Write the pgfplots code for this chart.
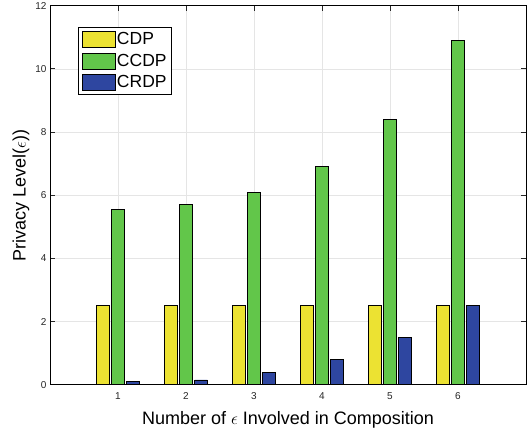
\documentclass[border=0pt]{standalone}
\usepackage{fontspec}
\setmainfont{Liberation Sans}
\usepackage{pgfplots}
\pgfplotsset{compat=1.18}
\definecolor{cyel}{RGB}{236,226,50}
\definecolor{cgrn}{RGB}{98,198,74}
\definecolor{cblu}{RGB}{46,70,160}
\pgfplotsset{my legend/.style={legend image code/.code={\draw[##1,line width=0.6pt] (0pt,-8pt) rectangle (33pt,8pt);}}}
\begin{document}
\begin{tikzpicture}
\begin{axis}[
  scale only axis, width=476pt, height=379pt,
  xmin=0, xmax=7, ymin=0, ymax=12,
  xtick={1,2,3,4,5,6}, ytick={0,2,4,6,8,10,12},
  tick align=inside, tick pos=both,
  major tick length=5pt,
  grid=major, grid style={color=black!10, line width=0.6pt},
  axis line style={line width=0.8pt},
  tick style={line width=0.8pt, color=black!85},
  ticklabel style={font=\fontsize{10}{12}\selectfont, text=black!85},
  xticklabel style={yshift=-4pt},
  /pgf/number format/assume math mode=true,
  xlabel={Number of $\epsilon$ Involved in Composition},
  ylabel={Privacy Level($\epsilon$))},
  label style={font=\fontsize{18}{20}\selectfont},
  xlabel style={yshift=-5pt},
  ylabel style={yshift=-1pt},
  legend style={at={(0.0588,0.944)}, anchor=north west, draw=black, line width=0.8pt,
    font=\fontsize{17.5}{17.5}\selectfont, inner xsep=3.5pt, inner ysep=3.5pt, row sep=5pt,
    nodes={inner sep=1.5pt}},
  legend cell align=left,
]
\addplot[ybar, bar width=12.5pt, bar shift=-15pt, fill=cyel, draw=black, line width=0.6pt, my legend]
  coordinates {(1,2.5) (2,2.5) (3,2.5) (4,2.5) (5,2.5) (6,2.5)};
\addlegendentry{CDP}
\addplot[ybar, bar width=12.5pt, bar shift=0pt, fill=cgrn, draw=black, line width=0.6pt, my legend]
  coordinates {(1,5.55) (2,5.7) (3,6.1) (4,6.9) (5,8.4) (6,10.9)};
\addlegendentry{CCDP}
\addplot[ybar, bar width=12.5pt, bar shift=15pt, fill=cblu, draw=black, line width=0.6pt, my legend]
  coordinates {(1,0.1) (2,0.15) (3,0.4) (4,0.8) (5,1.5) (6,2.5)};
\addlegendentry{CRDP}
\end{axis}
\pgfresetboundingbox
\path ([xshift=-50pt,yshift=-44pt]current axis.south west) rectangle ([xshift=2pt,yshift=5.7pt]current axis.north east);
\end{tikzpicture}
\end{document}
